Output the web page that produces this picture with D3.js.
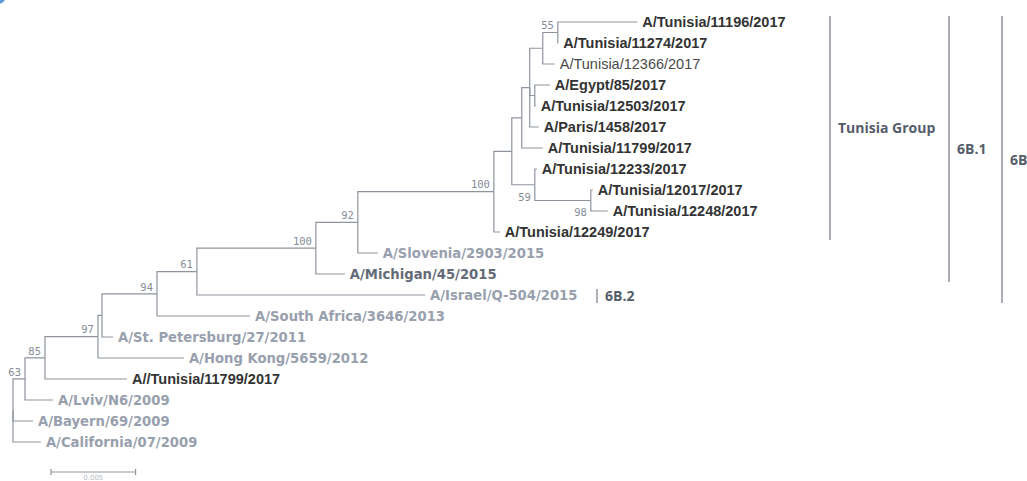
<!DOCTYPE html>
<html><head><meta charset="utf-8">
<script src="https://cdn.jsdelivr.net/npm/d3@7"></script>
<style>body{margin:0;background:#fff;} svg{display:block;}</style>
</head><body><svg id="chart" width="1027" height="481"></svg>
<script>
// ---------- DATA ----------
const nodeIds = [
  "root","n63","n85","n97","nX","n94","n61","n100a","n92","nTG","nD","nE","nF","nB","n55",
  "A/Tunisia/11196/2017","A/Tunisia/11274/2017","A/Tunisia/12366/2017",
  "nC","A/Egypt/85/2017","A/Tunisia/12503/2017","A/Paris/1458/2017",
  "A/Tunisia/11799/2017","n59","A/Tunisia/12233/2017","n98",
  "A/Tunisia/12017/2017","A/Tunisia/12248/2017","A/Tunisia/12249/2017",
  "A/Slovenia/2903/2015","A/Michigan/45/2015","A/Israel/Q-504/2015",
  "A/South Africa/3646/2013","A/St. Petersburg/27/2011","A/Hong Kong/5659/2012",
  "A//Tunisia/11799/2017","A/Lviv/N6/2009","A/Bayern/69/2009","A/California/07/2009"
];
const parentIds = [
  "","root","n63","n85","n97","nX","n94","n61","n100a","n92","nTG","nD","nE","nF","nB",
  "n55","n55","nB",
  "nF","nC","nC","nF",
  "nE","nD","n59","n59",
  "n98","n98","nTG",
  "n92","n100a","n61",
  "n94","nX","n97",
  "n85","n63","root","root"
];
const branchLengths = [
  0,0.00071,0.00118,0.00313,0.00024,0.00325,0.00236,0.00703,0.00248,0.00804,0.00106,0.00059,0.00047,0.00077,0.00089,
  0.00470,0.00003,0.00071,
  0.00030,0.00089,0.00006,0.00053,
  0.00124,0.00136,0.00012,0.00331,
  0.00012,0.00100,0.00035,
  0.00118,0.00171,0.01348,
  0.00550,0.00065,0.00508,
  0.00485,0.00165,0.00118,0.00165
];
const bootstrap = [
  null,63,85,97,null,94,61,100,92,100,null,null,null,null,55,
  null,null,null,
  null,null,null,null,
  null,59,null,98,
  null,null,null,
  null,null,null,
  null,null,null,
  null,null,null,null
];
const supportBelow = ["n59","n98"];

const studyStrains = ["A/Tunisia/11196/2017","A/Tunisia/11274/2017","A/Egypt/85/2017",
  "A/Tunisia/12503/2017","A/Paris/1458/2017","A/Tunisia/11799/2017","A/Tunisia/12233/2017",
  "A/Tunisia/12017/2017","A/Tunisia/12248/2017","A/Tunisia/12249/2017","A//Tunisia/11799/2017"];
const studyStrainsPlain = ["A/Tunisia/12366/2017"];
const vaccineStrains = ["A/Michigan/45/2015"];

const cladeNames = ["Tunisia Group","6B.1","6B","6B.2"];
const cladeFirstLeaf = ["A/Tunisia/11196/2017","A/Tunisia/11196/2017","A/Tunisia/11196/2017","A/Israel/Q-504/2015"];
const cladeLastLeaf = ["A/Tunisia/12249/2017","A/Michigan/45/2015","A/Israel/Q-504/2015","A/Israel/Q-504/2015"];

const scaleBarValue = 0.005;
const scaleBarLabel = "0.005";

// ---------- LAYOUT ----------
const layout = {
  rootX: 13, pxPerScaleBar: 84.6, leafTop: 22, leafBottom: 442,
  bracketX: {"Tunisia Group": 830, "6B.1": 949, "6B": 1002, "6B.2": 597},
  scaleBarX: 51, scaleBarY: 472
};
const lineColor = "#8e949e";

const svg = d3.select("#chart");

// corner artifact
svg.append("circle").attr("cx",-2).attr("cy",-4).attr("r",8).attr("fill","#5b9bd5");

const table = nodeIds.map((id,i)=>({id, parent: parentIds[i], len: branchLengths[i], support: bootstrap[i]}));
const root = d3.stratify().id(d=>d.id).parentId(d=>d.parent || null)(table);

root.eachBefore(n => { n.depth_ = n.parent ? n.parent.depth_ + n.data.len : 0; });
const xScale = d3.scaleLinear().domain([0, scaleBarValue])
  .range([layout.rootX, layout.rootX + layout.pxPerScaleBar]);

const leaves = [];
root.eachBefore(n => { if(!n.children) leaves.push(n.id); });
const yScale = d3.scalePoint().domain(leaves).range([layout.leafTop, layout.leafBottom]);

root.eachAfter(n => {
  n.px = xScale(n.depth_);
  if(!n.children) n.py = yScale(n.id);
  else n.py = (n.children[0].py + n.children[n.children.length-1].py)/2;
});

// links
svg.append("g").selectAll("path").data(root.descendants().filter(n=>n.parent))
  .join("path")
  .attr("d", n => `M${n.parent.px},${n.parent.py}V${n.py}H${n.px}`)
  .attr("fill","none").attr("stroke",lineColor).attr("stroke-width",1.2);

// leaf labels
function leafStyle(id){
  if(studyStrains.includes(id)) return {font:"'Liberation Sans', Arial, sans-serif", size:14.5, weight:"bold", fill:"#333"};
  if(studyStrainsPlain.includes(id)) return {font:"'Liberation Sans', Arial, sans-serif", size:14.5, weight:"normal", fill:"#4a4a4a"};
  if(vaccineStrains.includes(id)) return {font:"'DejaVu Sans', Verdana, sans-serif", size:13.2, weight:"bold", fill:"#646b77"};
  return {font:"'DejaVu Sans', Verdana, sans-serif", size:13.2, weight:"bold", fill:"#98a0ae"};
}
svg.append("g").selectAll("text").data(root.leaves()).join("text")
  .attr("x", n=>n.px+5).attr("y", n=>n.py).attr("dy","0.36em")
  .each(function(n){
    const s = leafStyle(n.id);
    d3.select(this).attr("font-family",s.font).attr("font-size",s.size)
      .attr("font-weight",s.weight).attr("fill",s.fill);
  })
  .text(n=>n.id);

// bootstrap values
svg.append("g").selectAll("text").data(root.descendants().filter(n=>n.data.support!=null)).join("text")
  .attr("x", n=>n.px-4)
  .attr("y", n=> supportBelow.includes(n.id) ? n.py+12 : n.py-7)
  .attr("dy","0.36em").attr("text-anchor","end")
  .attr("font-family","'DejaVu Sans Mono', monospace").attr("font-size",10.5)
  .attr("fill","#858c97")
  .text(n=>n.data.support);

// clade brackets
const cg = svg.append("g");
cladeNames.forEach((name,i)=>{
  const y0 = yScale(cladeFirstLeaf[i]) - 6, y1 = yScale(cladeLastLeaf[i]) + 8;
  const bx = layout.bracketX[name];
  cg.append("line").attr("x1",bx).attr("x2",bx).attr("y1",y0).attr("y2",y1)
    .attr("stroke",lineColor).attr("stroke-width",1.5);
  cg.append("text").attr("x",bx+8).attr("y",(y0+y1)/2).attr("dy","0.36em")
    .attr("font-family","'Open Sans', sans-serif").attr("font-weight","bold")
    .attr("font-size",14).attr("fill","#555d6a").text(name);
});

// scale bar
const sb = svg.append("g");
const sbx0 = layout.scaleBarX, sbx1 = layout.scaleBarX + (xScale(scaleBarValue)-xScale(0));
sb.append("line").attr("x1",sbx0).attr("x2",sbx1).attr("y1",layout.scaleBarY).attr("y2",layout.scaleBarY)
  .attr("stroke",lineColor).attr("stroke-width",1.2);
[sbx0,sbx1].forEach(x=>sb.append("line").attr("x1",x).attr("x2",x)
  .attr("y1",layout.scaleBarY-3).attr("y2",layout.scaleBarY+3).attr("stroke",lineColor).attr("stroke-width",1.2));
sb.append("text").attr("x",(sbx0+sbx1)/2).attr("y",480).attr("text-anchor","middle")
  .attr("font-family","'DejaVu Sans', sans-serif").attr("font-size",7).attr("fill","#b4b8be")
  .text(scaleBarLabel);
</script></body></html>
